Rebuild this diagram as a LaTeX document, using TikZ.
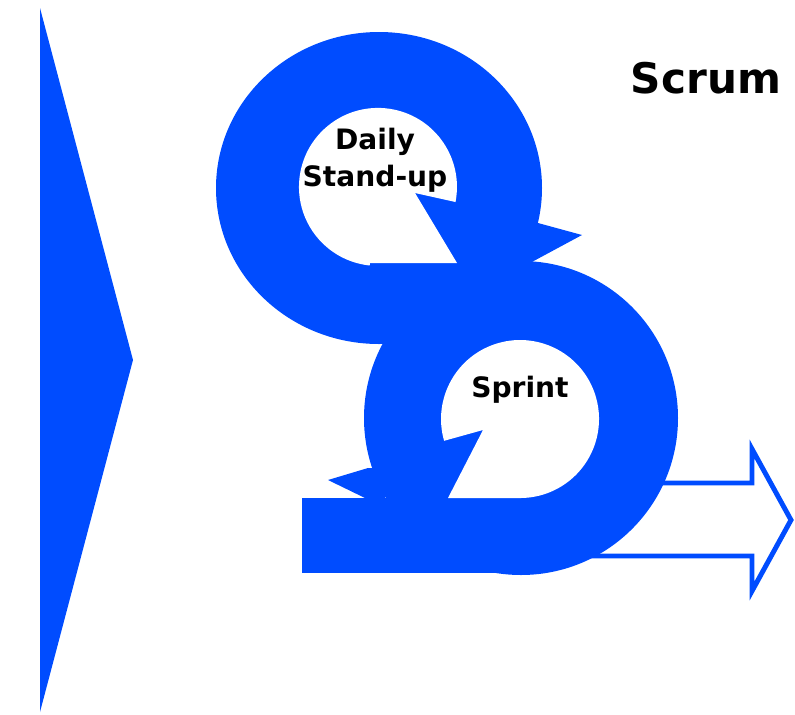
\documentclass[tikz,border=0pt]{standalone}
\usepackage{fontspec}
\setmainfont{DejaVu Sans}
\usepackage{tikz}
\usepackage{xcolor}
\definecolor{scrumblue}{RGB}{0,76,255}
\usetikzlibrary{positioning}
\tikzset{
	ring/.style={fill=scrumblue,draw=none},
	hole/.style={fill=white,draw=none},
	lbl/.style={font=\bfseries\fontsize{16}{21}\selectfont,inner sep=0pt,align=center}
}

\begin{document}
\begin{tikzpicture}[x=0.02cm,y=-0.02cm]
	\useasboundingbox (0,0) rectangle (795,714);
	\coordinate[] (c1) at (379,188);
	\coordinate[] (c2) at (521,418);
	
	% outline arrow going out
	\draw[scrumblue,line width=2.8pt,fill=white,line join=miter](560,483)--(752,483)--(752,449)--(791,520)--(752,591)--(752,556)--(560,556)--cycle;
	
	% left chevron
	\fill[scrumblue](40,8)--(133,360)--(40,712)--cycle;
	
	% the two loops
	\fill[ring](c1) ellipse[x radius=163,y radius=156];
	\fill[ring](c2) circle[radius=157];
	\fill[ring](302,498) rectangle (521,573);
	\fill[ring](538,223)--(582,235)--(530,263)--(515,263)--(525,225)--cycle;
	\fill[ring](368,468)--(328,480)--(365,498)--(385,498)--(385,468)--cycle;
	
	% holes
	\fill[hole](370,263)--(457,263)--(415,193)--(455.5,202) arc[start angle=11,end angle=-264,radius=79]--cycle;
	\fill[hole](444.1,440.8) arc[start angle=164,end angle=450,radius=79]--(448,498)--(483,430)--cycle;
	
	\node[lbl] (daily) at (375,160){Daily\\Stand-up};
	\node[lbl,anchor=base] (sprint) at (520,397){Sprint};
	\node[lbl,anchor=base,font=\bfseries\fontsize{24}{28}\selectfont] (scrum) at (706,93){Scrum};
	%\draw[->,scrumblue](daily)--(sprint);
\end{tikzpicture}
\end{document}
